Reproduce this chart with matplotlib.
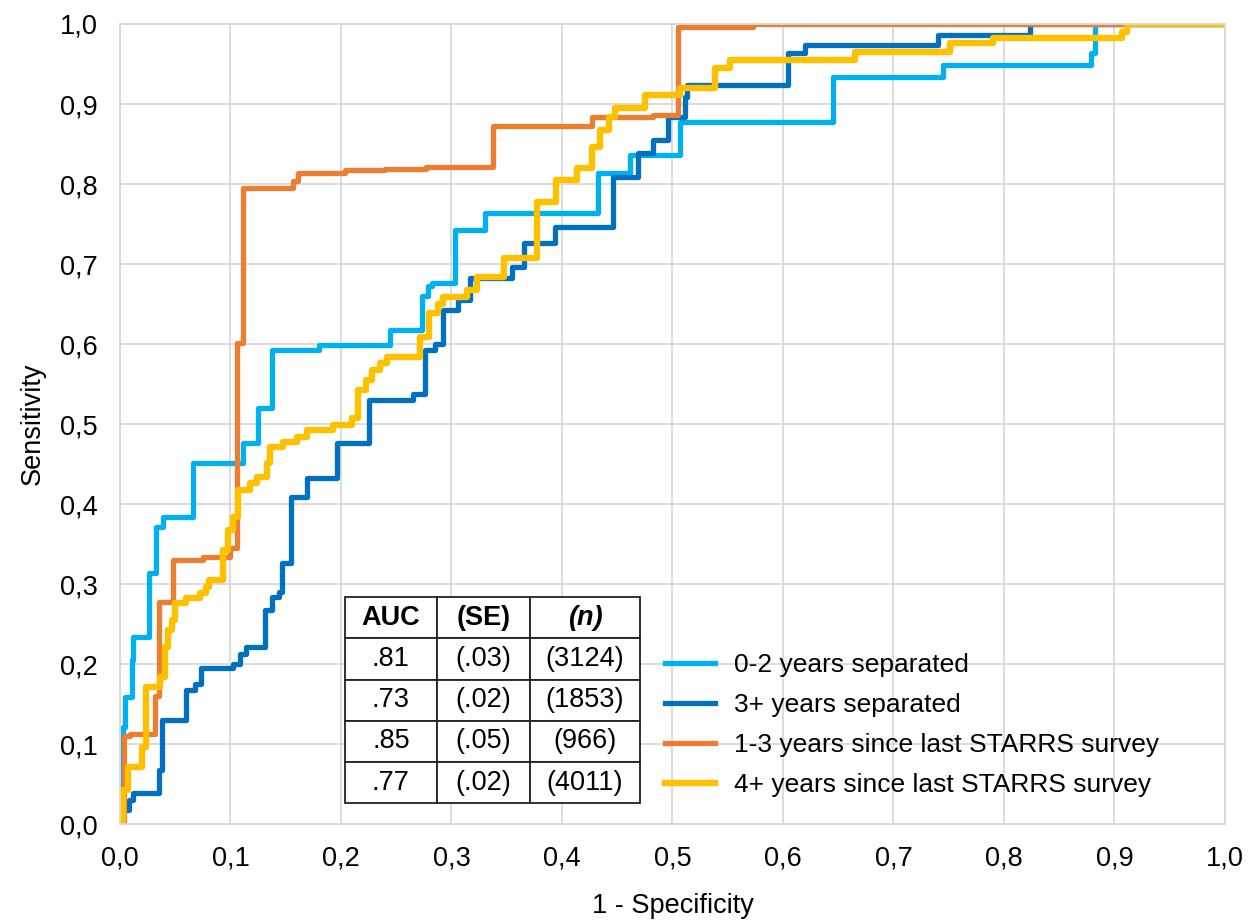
import matplotlib.pyplot as plt
import numpy as np

plt.rcParams['font.family'] = ['Liberation Sans', 'DejaVu Sans']

# --- ROC step curves (x = 1 - specificity, y = sensitivity) ---
x_02 = [0, 0.003, 0.005, 0.011, 0.012, 0.026, 0.033, 0.039, 0.066, 0.111, 0.125, 0.138, 0.18,
        0.244, 0.273, 0.279, 0.282, 0.303, 0.330, 0.433, 0.4615, 0.507, 0.645, 0.745, 0.879, 0.882, 1.0]
y_02 = [0, 0.121, 0.159, 0.205, 0.234, 0.314, 0.371, 0.384, 0.451, 0.476, 0.52, 0.592, 0.599,
        0.6175, 0.66, 0.672, 0.676, 0.7425, 0.764, 0.814, 0.836, 0.878, 0.934, 0.949, 0.964, 1.0, 1.0]

x_3p = [0, 0.003, 0.008, 0.012, 0.035, 0.038, 0.060, 0.068, 0.073, 0.102, 0.109, 0.114, 0.131,
        0.138, 0.144, 0.147, 0.155, 0.169, 0.196, 0.225, 0.265, 0.276, 0.285, 0.292, 0.306, 0.317,
        0.355, 0.366, 0.394, 0.446, 0.469, 0.482, 0.496, 0.511, 0.513, 0.605, 0.62, 0.74, 0.8235, 1.0]
y_3p = [0, 0.0175, 0.03, 0.039, 0.0675, 0.13, 0.1675, 0.175, 0.195, 0.2, 0.213, 0.222, 0.2675,
        0.284, 0.29, 0.326, 0.409, 0.4325, 0.476, 0.53, 0.538, 0.5925, 0.6, 0.6425, 0.655, 0.6825,
        0.696, 0.726, 0.746, 0.809, 0.839, 0.855, 0.884, 0.909, 0.924, 0.964, 0.974, 0.986, 1.0, 1.0]

x_13 = [0, 0.004, 0.009, 0.032, 0.035, 0.048, 0.075, 0.100, 0.106, 0.111, 0.157, 0.161, 0.204,
        0.24, 0.277, 0.3377, 0.427, 0.482, 0.505, 0.573, 1.0]
y_13 = [0, 0.11, 0.113, 0.16, 0.2775, 0.33, 0.334, 0.345, 0.601, 0.795, 0.804, 0.814, 0.8175,
        0.819, 0.821, 0.8725, 0.884, 0.886, 0.996, 1.0, 1.0]

x_4p = [0, 0.003, 0.0075, 0.0196, 0.024, 0.036, 0.0407, 0.0437, 0.0468, 0.0498, 0.060, 0.0724,
        0.078, 0.081, 0.0935, 0.098, 0.1025, 0.107, 0.1176, 0.1237, 0.1327, 0.1357, 0.148, 0.16,
        0.169, 0.193, 0.2097, 0.2157, 0.223, 0.2278, 0.2353, 0.2413, 0.2715, 0.280, 0.288, 0.292,
        0.314, 0.323, 0.348, 0.377, 0.395, 0.4135, 0.427, 0.434, 0.443, 0.448, 0.475, 0.507,
        0.5385, 0.552, 0.665, 0.751, 0.79, 0.907, 0.911, 1.0]
y_4p = [0, 0.0425, 0.071, 0.096, 0.171, 0.184, 0.222, 0.2425, 0.255, 0.276, 0.2825, 0.289,
        0.296, 0.305, 0.3425, 0.3675, 0.384, 0.4175, 0.426, 0.434, 0.451, 0.471, 0.4775, 0.484,
        0.4925, 0.499, 0.5075, 0.5425, 0.555, 0.5675, 0.576, 0.584, 0.609, 0.639, 0.65, 0.659,
        0.6675, 0.684, 0.7075, 0.7775, 0.805, 0.82, 0.846, 0.8675, 0.884, 0.895, 0.911, 0.92,
        0.945, 0.955, 0.965, 0.976, 0.9825, 0.99, 1.0, 1.0]

labels = ['0-2 years separated', '3+ years separated',
          '1-3 years since last STARRS survey', '4+ years since last STARRS survey']
colors = ['#00B0F0', '#0070C0', '#ED7D31', '#FFC000']

# table values
auc = ['.81', '.73', '.85', '.77']
se = ['(.03)', '(.02)', '(.05)', '(.02)']
n = ['(3124)', '(1853)', '(966)', '(4011)']

fig = plt.figure(figsize=(12.52, 9.23), dpi=100)
ax = fig.add_axes([0.0958, 0.107, 0.8826, 0.867])

curves = [(x_02, y_02), (x_3p, y_3p), (x_13, y_13), (x_4p, y_4p)]
widths = [3.8, 3.8, 3.8, 4.6]
for (xs, ys), c, lab, lw in zip(curves, colors, labels, widths):
    ax.plot(xs, ys, drawstyle='steps-post', color=c, lw=lw, label=lab)

ax.set_xlim(0, 1)
ax.set_ylim(0, 1)
ticks = np.arange(0, 1.01, 0.1)
ax.set_xticks(ticks)
ax.set_yticks(ticks)
ax.set_xticklabels([f'{t:.1f}'.replace('.', ',') for t in ticks], fontsize=19.5)
ax.set_yticklabels([f'{t:.1f}'.replace('.', ',') for t in ticks], fontsize=19.5)
ax.tick_params(axis='y', length=0, pad=16)
ax.tick_params(axis='x', length=0, pad=15)
ax.grid(True, color='#D9D9D9', lw=1.3)
ax.set_axisbelow(True)
for s in ax.spines.values():
    s.set_color('#D9D9D9')
    s.set_linewidth(1.3)

ax.set_xlabel('1 - Specificity', fontsize=19.5, labelpad=16)
ax.set_ylabel('Sensitivity', fontsize=19.5, labelpad=10)

# AUC table
cell_text = [[a, s, m] for a, s, m in zip(auc, se, n)]
tab = ax.table(cellText=cell_text, colLabels=['AUC', '(SE)', '(n)'],
               cellLoc='center', bbox=[0.2036, 0.026, 0.267, 0.258])
tab.auto_set_font_size(False)
tab.set_fontsize(19.5)
tab.set_zorder(6)
widths_tab = [0.0832, 0.0842, 0.0996]
for (r, c), cell in tab.get_celld().items():
    cell.set_edgecolor('#222222')
    cell.set_linewidth(1.3)
    cell.set_facecolor('white')
    cell.set_width(widths_tab[c])
    if r == 0:
        cell.get_text().set_fontweight('bold')
        if c == 2:
            cell.get_text().set_fontstyle('italic')

ax.legend(loc='upper left', bbox_to_anchor=(0.484, 0.2275), borderaxespad=0, frameon=False,
          fontsize=19, handlelength=1.9, handletextpad=0.7, labelspacing=0.61)

fig.savefig('out.png', dpi=100)
